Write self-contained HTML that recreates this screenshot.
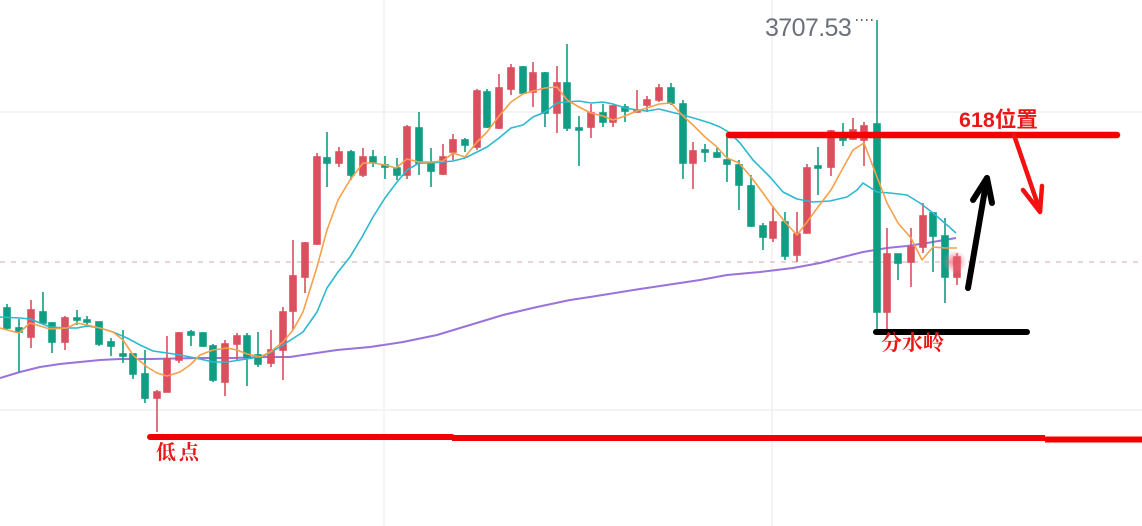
<!DOCTYPE html>
<html><head><meta charset="utf-8"><style>
html,body{margin:0;padding:0;background:#fff;}
svg{display:block;}
</style></head><body>
<svg width="1142" height="526" viewBox="0 0 1142 526" xmlns="http://www.w3.org/2000/svg">
<defs>
<radialGradient id="glow"><stop offset="0" stop-color="#e8505e" stop-opacity="0.85"/><stop offset="0.6" stop-color="#ee7080" stop-opacity="0.35"/><stop offset="1" stop-color="#f7a0aa" stop-opacity="0"/></radialGradient>
</defs>
<rect width="1142" height="526" fill="#fff"/>
<g stroke="#f0f1f3" stroke-width="1.5">
<line x1="0" y1="112" x2="1142" y2="112"/>
<line x1="0" y1="410" x2="1142" y2="410"/>
<line x1="384" y1="0" x2="384" y2="526"/>
<line x1="772" y1="0" x2="772" y2="526"/>
</g>
<line x1="0" y1="262" x2="1142" y2="262" stroke="#d8a3ac" stroke-width="1" stroke-dasharray="5,6"/>
<polyline fill="none" stroke="#9a72dc" stroke-width="2" stroke-linejoin="round" points="0,378 20,372 40,367 60,364 80,362 100,360 120,359 150,359 200,358 233,358 267,357 290,357 303,355 337,350 370,347 403,342 437,335 470,325 503,315 537,307 570,300 590,297 640,289 700,280 727,275 760,272 793,268 820,263 843,257 863,252 887,248 907,246 927,243 956,238"/>
<g stroke-width="1.6">
<g stroke="#0f9d84" fill="#0f9d84">
<line x1="7" y1="304" x2="7" y2="330"/><rect x="4" y="308" width="6" height="20"/>
<line x1="19" y1="319" x2="19" y2="372"/><rect x="16" y="328" width="6" height="4"/>
<line x1="43" y1="292" x2="43" y2="325"/><rect x="40" y="312" width="6" height="11"/>
<line x1="52" y1="322" x2="52" y2="353"/><rect x="49" y="323" width="6" height="19"/>
<line x1="77" y1="310" x2="77" y2="325"/><rect x="74" y="318" width="6" height="2"/>
<line x1="87" y1="316" x2="87" y2="327"/><rect x="84" y="320" width="6" height="2"/>
<line x1="99" y1="322" x2="99" y2="346"/><rect x="96" y="322" width="6" height="22"/>
<line x1="111" y1="338" x2="111" y2="356"/><rect x="108" y="342" width="6" height="4"/>
<line x1="123" y1="330" x2="123" y2="363"/><rect x="120" y="354" width="6" height="2"/>
<line x1="133" y1="354" x2="133" y2="379"/><rect x="130" y="354" width="6" height="20"/>
<line x1="145" y1="350" x2="145" y2="403"/><rect x="142" y="374" width="6" height="24"/>
<line x1="191" y1="330" x2="191" y2="346"/><rect x="188" y="332" width="6" height="3"/>
<line x1="203" y1="332" x2="203" y2="347"/><rect x="200" y="333" width="6" height="13"/>
<line x1="213" y1="344" x2="213" y2="382"/><rect x="210" y="346" width="6" height="34"/>
<line x1="247" y1="333" x2="247" y2="386"/><rect x="244" y="336" width="6" height="21"/>
<line x1="258" y1="332" x2="258" y2="367"/><rect x="255" y="355" width="6" height="9"/>
<line x1="327" y1="132" x2="327" y2="187"/><rect x="324" y="158" width="6" height="5"/>
<line x1="351" y1="150" x2="351" y2="180"/><rect x="348" y="152" width="6" height="23"/>
<line x1="373" y1="150" x2="373" y2="167"/><rect x="370" y="157" width="6" height="5"/>
<line x1="385" y1="156" x2="385" y2="179"/><rect x="382" y="165" width="6" height="2"/>
<line x1="397" y1="158" x2="397" y2="180"/><rect x="394" y="168" width="6" height="7"/>
<line x1="419" y1="112" x2="419" y2="175"/><rect x="416" y="128" width="6" height="35"/>
<line x1="431" y1="148" x2="431" y2="187"/><rect x="428" y="163" width="6" height="8"/>
<line x1="465" y1="138" x2="465" y2="152"/><rect x="462" y="140" width="6" height="5"/>
<line x1="487" y1="89" x2="487" y2="128"/><rect x="484" y="92" width="6" height="35"/>
<line x1="523" y1="66" x2="523" y2="94"/><rect x="520" y="67" width="6" height="26"/>
<line x1="545" y1="72" x2="545" y2="127"/><rect x="542" y="73" width="6" height="40"/>
<line x1="567" y1="44" x2="567" y2="131"/><rect x="564" y="83" width="6" height="45"/>
<line x1="579" y1="116" x2="579" y2="166"/><rect x="576" y="128" width="6" height="2"/>
<line x1="603" y1="104" x2="603" y2="127"/><rect x="600" y="113" width="6" height="9"/>
<line x1="625" y1="104" x2="625" y2="122"/><rect x="622" y="107" width="6" height="4"/>
<line x1="671" y1="83" x2="671" y2="105"/><rect x="668" y="88" width="6" height="15"/>
<line x1="683" y1="100" x2="683" y2="179"/><rect x="680" y="104" width="6" height="59"/>
<line x1="705" y1="144" x2="705" y2="162"/><rect x="702" y="150" width="6" height="2"/>
<line x1="717" y1="148" x2="717" y2="158"/><rect x="714" y="153" width="6" height="4"/>
<line x1="727" y1="133" x2="727" y2="182"/><rect x="724" y="160" width="6" height="4"/>
<line x1="739" y1="160" x2="739" y2="210"/><rect x="736" y="165" width="6" height="20"/>
<line x1="751" y1="175" x2="751" y2="227"/><rect x="748" y="186" width="6" height="40"/>
<line x1="763" y1="223" x2="763" y2="250"/><rect x="760" y="226" width="6" height="11"/>
<line x1="785" y1="212" x2="785" y2="260"/><rect x="782" y="222" width="6" height="34"/>
<line x1="818" y1="147" x2="818" y2="195"/><rect x="815" y="166" width="6" height="2"/>
<line x1="843" y1="123" x2="843" y2="146"/><rect x="840" y="133" width="6" height="7"/>
<line x1="877" y1="20" x2="877" y2="330"/><rect x="874" y="124" width="6" height="188"/>
<line x1="898" y1="254" x2="898" y2="280"/><rect x="895" y="254" width="6" height="9"/>
<line x1="933" y1="212" x2="933" y2="272"/><rect x="930" y="213" width="6" height="23"/>
<line x1="945" y1="218" x2="945" y2="303"/><rect x="942" y="236" width="6" height="41"/>
</g>
<g stroke="#db4f5e" fill="#db4f5e">
<line x1="31" y1="300" x2="31" y2="348"/><rect x="28" y="310" width="6" height="27"/>
<line x1="65" y1="316" x2="65" y2="350"/><rect x="62" y="318" width="6" height="24"/>
<line x1="157" y1="390" x2="157" y2="432"/><rect x="154" y="392" width="6" height="6"/>
<line x1="167" y1="336" x2="167" y2="392"/><rect x="164" y="359" width="6" height="33"/>
<line x1="179" y1="332" x2="179" y2="363"/><rect x="176" y="333" width="6" height="27"/>
<line x1="225" y1="340" x2="225" y2="396"/><rect x="222" y="344" width="6" height="38"/>
<line x1="237" y1="333" x2="237" y2="360"/><rect x="234" y="336" width="6" height="8"/>
<line x1="271" y1="330" x2="271" y2="367"/><rect x="268" y="350" width="6" height="13"/>
<line x1="283" y1="307" x2="283" y2="380"/><rect x="280" y="312" width="6" height="38"/>
<line x1="293" y1="240" x2="293" y2="330"/><rect x="290" y="276" width="6" height="35"/>
<line x1="305" y1="242" x2="305" y2="293"/><rect x="302" y="243" width="6" height="34"/>
<line x1="317" y1="153" x2="317" y2="245"/><rect x="314" y="157" width="6" height="87"/>
<line x1="339" y1="147" x2="339" y2="167"/><rect x="336" y="152" width="6" height="11"/>
<line x1="363" y1="148" x2="363" y2="177"/><rect x="360" y="157" width="6" height="18"/>
<line x1="407" y1="125" x2="407" y2="179"/><rect x="404" y="127" width="6" height="48"/>
<line x1="443" y1="144" x2="443" y2="175"/><rect x="440" y="157" width="6" height="17"/>
<line x1="453" y1="134" x2="453" y2="160"/><rect x="450" y="140" width="6" height="12"/>
<line x1="477" y1="89" x2="477" y2="150"/><rect x="474" y="91" width="6" height="56"/>
<line x1="499" y1="74" x2="499" y2="129"/><rect x="496" y="88" width="6" height="40"/>
<line x1="511" y1="64" x2="511" y2="95"/><rect x="508" y="68" width="6" height="21"/>
<line x1="533" y1="62" x2="533" y2="107"/><rect x="530" y="73" width="6" height="19"/>
<line x1="557" y1="66" x2="557" y2="133"/><rect x="554" y="83" width="6" height="30"/>
<line x1="591" y1="104" x2="591" y2="138"/><rect x="588" y="113" width="6" height="14"/>
<line x1="613" y1="105" x2="613" y2="127"/><rect x="610" y="106" width="6" height="16"/>
<line x1="637" y1="90" x2="637" y2="112"/><rect x="634" y="110" width="6" height="2"/>
<line x1="647" y1="96" x2="647" y2="112"/><rect x="644" y="100" width="6" height="5"/>
<line x1="659" y1="84" x2="659" y2="102"/><rect x="656" y="88" width="6" height="12"/>
<line x1="693" y1="142" x2="693" y2="189"/><rect x="690" y="151" width="6" height="12"/>
<line x1="773" y1="206" x2="773" y2="242"/><rect x="770" y="222" width="6" height="16"/>
<line x1="797" y1="212" x2="797" y2="262"/><rect x="794" y="234" width="6" height="21"/>
<line x1="807" y1="164" x2="807" y2="233"/><rect x="804" y="168" width="6" height="65"/>
<line x1="831" y1="130" x2="831" y2="176"/><rect x="828" y="131" width="6" height="36"/>
<line x1="853" y1="118" x2="853" y2="140"/><rect x="850" y="130" width="6" height="9"/>
<line x1="864" y1="122" x2="864" y2="166"/><rect x="861" y="126" width="6" height="14"/>
<line x1="887" y1="228" x2="887" y2="330"/><rect x="884" y="254" width="6" height="58"/>
<line x1="911" y1="228" x2="911" y2="287"/><rect x="908" y="247" width="6" height="15"/>
<line x1="923" y1="203" x2="923" y2="253"/><rect x="920" y="216" width="6" height="31"/>
<line x1="957" y1="253" x2="957" y2="285"/><rect x="954" y="257" width="6" height="20"/>
</g>
</g>
<polyline fill="none" stroke="#2cb9cf" stroke-width="1.6" stroke-linejoin="round" points="0,317 20,318 30,319 50,327 67,328 77,328 87,326 100,328 113,332 127,338 140,345 153,351 167,353 180,355 190,357 200,359 213,362 227,362 240,360 253,358 263,356 270,353 283,345 303,332 317,312 327,288 338,272 350,257 362,237 373,217 385,198 397,182 407,170 419,163 431,163 443,162 453,161 465,158 477,152 487,147 499,138 511,128 523,125 533,117 545,112 557,103 567,102 579,101 591,103 603,102 613,104 625,108 637,110 647,111 659,109 671,112 683,115 697,119 710,123 720,127 730,133 740,143 753,160 770,177 783,192 797,199 813,202 830,201 847,197 857,190 863,183 877,192 890,193 907,195 920,203 933,213 947,225 956,233"/>
<polyline fill="none" stroke="#f7a04b" stroke-width="1.6" stroke-linejoin="round" points="0,328 19,333 30,323 50,329 67,328 77,323 87,325 100,328 113,332 123,340 133,355 147,367 157,373 167,376 180,372 190,365 200,355 213,350 227,348 237,350 247,354 260,357 270,352 283,342 293,330 303,312 317,267 327,230 338,200 350,180 363,163 373,163 385,165 396,168 407,159 419,162 431,162 443,161 453,153 465,157 477,142 487,132 499,116 511,102 523,94 533,91 545,88 557,87 567,100 579,107 591,113 603,116 613,120 625,116 637,111 647,108 659,104 671,103 683,116 693,125 705,137 717,147 727,158 739,163 751,177 763,193 773,207 785,222 797,235 807,222 818,207 831,190 843,168 853,150 864,143 877,177 887,203 898,223 911,238 922,260 933,247 945,248 957,248"/>
<circle cx="955" cy="262" r="12" fill="url(#glow)"/>
<text x="765" y="36" font-family="Liberation Sans, sans-serif" font-size="25" letter-spacing="-0.6" fill="#6c707b">3707.53</text>
<line x1="856" y1="20" x2="876" y2="20" stroke="#333" stroke-width="1.5" stroke-dasharray="1.5,3.5"/>
<g stroke-linecap="round" stroke-linejoin="round" fill="none">
<line x1="729" y1="135" x2="1117" y2="135" stroke="#f50000" stroke-width="6.5"/>
<polyline points="1014,135 1040,211" stroke="#f21010" stroke-width="4.5"/>
<polyline points="1023,190 1040,212 1042,186" stroke="#f21010" stroke-width="4.5"/>
<polyline points="968,288 987,178" stroke="#000" stroke-width="6"/>
<polyline points="973,200 987,178 992,203" stroke="#000" stroke-width="6"/>
<line x1="876" y1="332" x2="1027" y2="332" stroke="#000" stroke-width="6"/>
<line x1="150" y1="437" x2="452" y2="437" stroke="#f50000" stroke-width="6"/>
<line x1="452" y1="438" x2="1045" y2="438" stroke="#f50000" stroke-width="6" stroke-linecap="butt"/>
<line x1="1045" y1="439.5" x2="1142" y2="439.5" stroke="#f50000" stroke-width="6" stroke-linecap="butt"/>
</g>
<text x="959" y="127" font-family="Liberation Sans, Noto Sans CJK SC, sans-serif" font-size="21.5" font-weight="bold" fill="#e81818">618位置</text>
<text x="881" y="350" font-family="Noto Serif CJK SC, serif" font-size="21" font-weight="bold" fill="#e81818">分水岭</text>
<text x="156" y="459" font-family="Noto Serif CJK SC, serif" font-size="20" font-weight="bold" letter-spacing="3" fill="#e81818">低点</text>
</svg>
</body></html>
